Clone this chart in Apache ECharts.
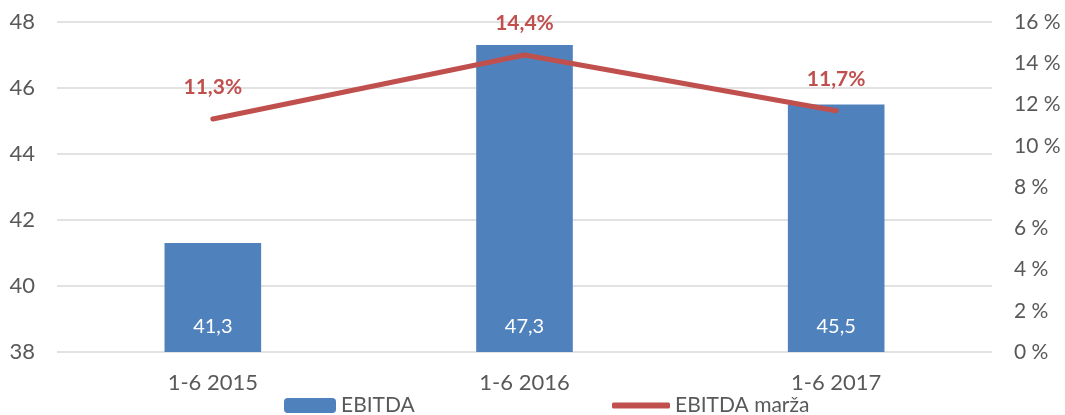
<!DOCTYPE html>
<html>
<head>
<meta charset="utf-8">
<script src="https://cdn.jsdelivr.net/npm/echarts@6/dist/echarts.min.js"></script>
<style>
  html, body { margin: 0; padding: 0; background: #fff; }
  #chart { width: 1065px; height: 415px; }
</style>
</head>
<body>
<div id="chart"></div>
<script>
const categories = ['1-6 2015', '1-6 2016', '1-6 2017'];
const ebitda = [41.3, 47.3, 45.5];
const margin = [11.3, 14.4, 11.7];

const font = 'Lato, "Open Sans", sans-serif';
const gray = '#595959';
const red = '#c0504d';
const comma = v => String(v).replace('.', ',');

let chart = echarts.init(document.getElementById('chart'));
chart.setOption({
    animation: false,
    textStyle: { fontFamily: font },
    grid: { left: 57, right: 73, top: 22, bottom: 63 },
    legend: [
        {
            data: ['EBITDA'], left: 279, top: 390, itemWidth: 52, itemHeight: 15, itemGap: 6,
            textStyle: { fontSize: 21, color: gray, fontFamily: font }
        },
        {
            data: [{ name: 'EBITDA marža', icon: 'roundRect' }], left: 607, top: 390,
            itemWidth: 58, itemHeight: 6, itemGap: 4,
            itemStyle: { color: red, opacity: 1 },
            textStyle: { fontSize: 21, color: gray, fontFamily: font }
        }
    ],
    xAxis: {
        type: 'category',
        data: categories,
        axisLine: { show: false },
        axisTick: { show: false },
        axisLabel: { fontSize: 22, color: gray, margin: 20 }
    },
    yAxis: [
        {
            type: 'value', min: 38, max: 48, interval: 2,
            axisLabel: { fontSize: 22, color: gray, margin: 22 },
            splitLine: { lineStyle: { color: '#d9d9d9', width: 1.5 } }
        },
        {
            type: 'value', min: 0, max: 16, interval: 2,
            axisLabel: { fontSize: 21, color: gray, margin: 22, formatter: v => v + ' %' },
            splitLine: { show: false }
        }
    ],
    series: [
        {
            name: 'EBITDA',
            type: 'bar',
            data: ebitda,
            barWidth: '31%',
            itemStyle: { color: '#4f81bd' },
            label: {
                show: true, position: 'insideBottom', distance: 15,
                color: '#fff', fontSize: 20, formatter: p => comma(p.value)
            }
        },
        {
            name: 'EBITDA marža',
            type: 'line',
            yAxisIndex: 1,
            data: margin,
            symbol: 'circle',
            symbolSize: 2,
            showSymbol: true,
            lineStyle: { color: red, width: 5, cap: 'round' },
            itemStyle: { color: red },
            label: {
                show: true, position: 'top', distance: 20,
                color: red, fontSize: 21, fontWeight: 'bold',
                formatter: p => comma(p.value) + '%'
            }
        }
    ]
});
</script>
</body>
</html>
